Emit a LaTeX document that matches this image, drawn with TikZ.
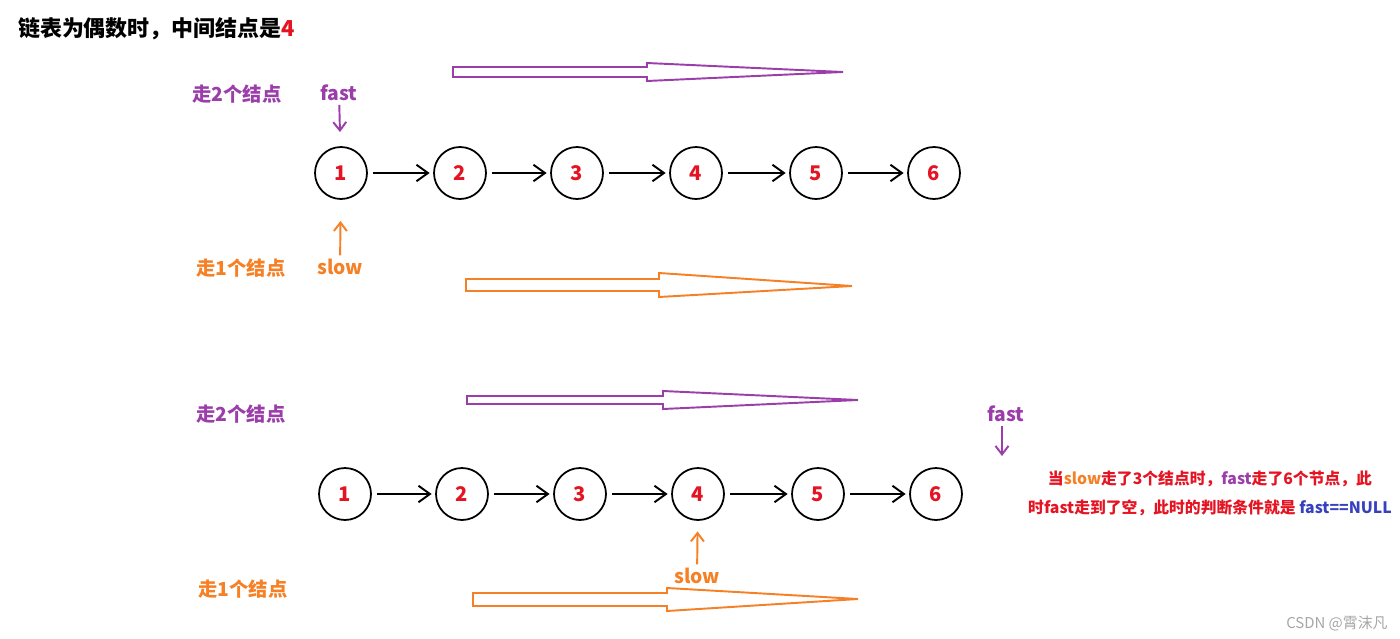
\documentclass[tikz,border=0pt]{standalone}
\usepackage{fontspec}
\setmainfont{Noto Sans CJK SC}
\usetikzlibrary{arrows.meta, positioning}

\definecolor{fastpurple}{RGB}{155,62,170}
\definecolor{sloworange}{RGB}{245,128,37}
\definecolor{numred}{RGB}{228,20,35}
\definecolor{nullblue}{RGB}{55,65,190}

\tikzset{
  lnode/.style={circle, draw, line width=1pt, minimum size=1.04cm, inner sep=0pt,
    text=numred, font=\bfseries\fontsize{11.5}{13}\selectfont},
  link/.style={-{Straight Barb[length=2.3mm, width=3.3mm]}, line width=1.1pt,
    shorten <=3pt, shorten >=2pt},
  ptr/.style={-{Straight Barb[length=1.7mm, width=2.6mm]}, line width=1.1pt},
  lbl/.style={inner sep=1pt, font=\bfseries\fontsize{11}{13}\selectfont},
  hollow/.style={line width=1.1pt, fill=white}
}

\begin{document}
\begin{tikzpicture}[x=0.02cm, y=-0.02cm]
\useasboundingbox (0,0) rectangle (1400,639);

\node[lbl, anchor=west, font=\bfseries\fontsize{12.5}{15}\selectfont] (title) at (16,29)
  {链表为偶数时，中间结点是\textcolor{numred}{4}};

% first step
\draw[hollow, draw=fastpurple] (453,67) -- (647,67) -- (647,63) -- (843,72) -- (647,81) -- (647,77) -- (453,77) -- cycle;
\node[lbl, text=fastpurple] (twoa) at (237,94) {走2个结点};
\node[lbl, text=fastpurple] (fasta) at (339,93) {fast};

\foreach \i/\x in {1/341, 2/460, 3/577, 4/696, 5/816, 6/934}
  \node[lnode] (a\i) at (\x,173) {\i};
\foreach \i/\j in {1/2, 2/3, 3/4, 4/5, 5/6}
  \draw[link] (a\i) -- (a\j);

\draw[ptr, fastpurple, shorten <=1pt, shorten >=8pt] (fasta) -- (a1);
\node[lbl, text=sloworange] (slowa) at (340,267) {slow};
\draw[ptr, sloworange, shorten <=1pt, shorten >=12pt] (slowa) -- (a1);
\node[lbl, text=sloworange] (onea) at (241,268) {走1个结点};
\draw[hollow, draw=sloworange] (466,279) -- (659,279) -- (659,273) -- (852,286) -- (659,297) -- (659,291) -- (466,291) -- cycle;

% second step
\draw[hollow, draw=fastpurple] (467,396) -- (663,396) -- (663,391) -- (858,400) -- (663,409) -- (663,404) -- (467,404) -- cycle;
\node[lbl, text=fastpurple] (twob) at (241,414) {走2个结点};
\node[lbl, text=fastpurple] (fastb) at (1006,414) {fast};
\coordinate (nil) at (1002,456);
\draw[ptr, fastpurple, shorten <=1pt] (fastb.south -| nil) -- (nil);

\foreach \i/\x in {1/345, 2/462, 3/580, 4/698, 5/818, 6/936}
  \node[lnode] (b\i) at (\x,494) {\i};
\foreach \i/\j in {1/2, 2/3, 3/4, 4/5, 5/6}
  \draw[link] (b\i) -- (b\j);

\node[lbl, text=sloworange] (slowb) at (697,576) {slow};
\draw[ptr, sloworange, shorten <=1pt, shorten >=6pt] (slowb) -- (b4);
\node[lbl, text=sloworange] (oneb) at (243,589) {走1个结点};
\draw[hollow, draw=sloworange] (473,593) -- (667,593) -- (667,588) -- (858,599) -- (667,611) -- (667,606) -- (473,606) -- cycle;

\node[lbl, text=numred, align=center, font=\bfseries\fontsize{9}{16.5}\selectfont] (note) at (1210,493)
  {当\textcolor{sloworange}{slow}走了3个结点时，\textcolor{fastpurple}{fast}走了6个节点，此\\
   时fast走到了空，此时的判断条件就是 \textcolor{nullblue}{fast==NULL}};

\node[inner sep=0pt, text=gray!70, font=\fontsize{8.5}{10}\selectfont, anchor=east] (mark) at (1388,624) {CSDN @霄沫凡};
\end{tikzpicture}
\end{document}
